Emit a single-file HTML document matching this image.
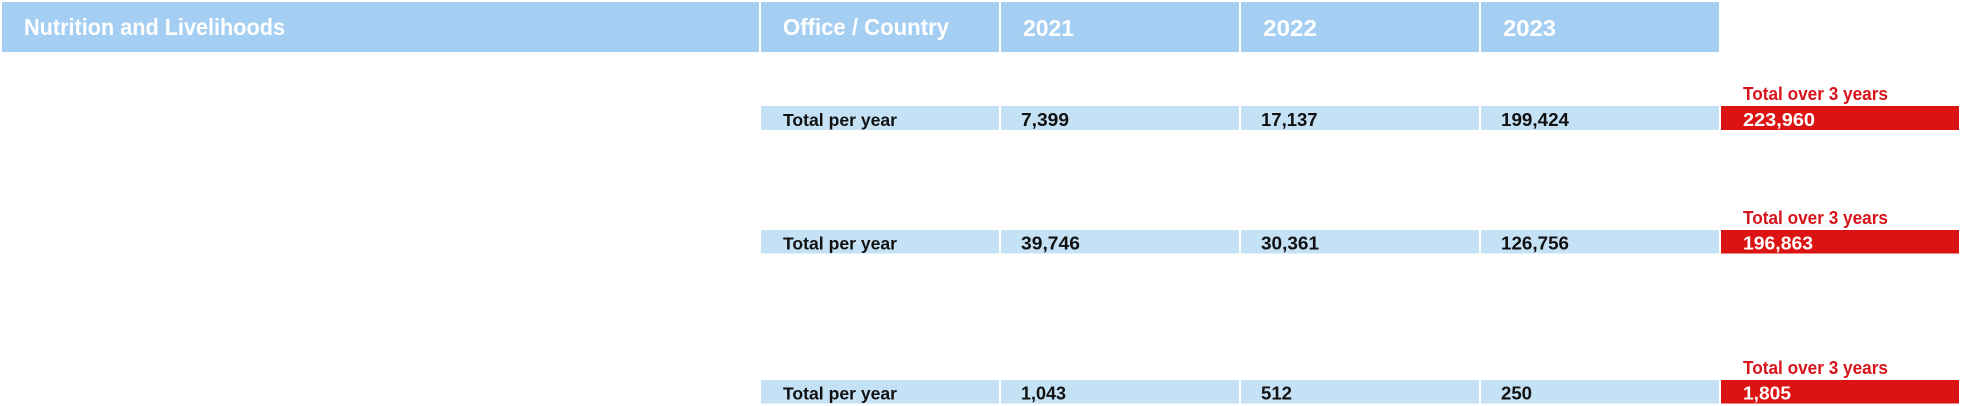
<!DOCTYPE html>
<html>
<head>
<meta charset="utf-8">
<style>
  html, body { margin: 0; padding: 0; background: #ffffff; }
  body { width: 1962px; height: 406px; overflow: hidden; }
  svg { display: block; }
  text { font-family: "Liberation Sans", Arial, sans-serif; font-weight: bold; }
  .hd { fill: #ffffff; font-size: 23px; }
  .lb { fill: #111111; font-size: 17.5px; }
  .nm { fill: #111111; font-size: 18.5px; }
  .rl { fill: #d7141b; font-size: 18px; }
  .rv { fill: #ffffff; font-size: 18.5px; }
</style>
</head>
<body>
<svg width="1962" height="406" viewBox="0 0 1962 406" xmlns="http://www.w3.org/2000/svg">
  <rect x="0" y="0" width="1962" height="406" fill="#ffffff"/>

  <!-- Header -->
  <rect x="2" y="2" width="757" height="50" fill="#a5cff2"/>
  <rect x="761" y="2" width="238" height="50" fill="#a5cff2"/>
  <rect x="1001" y="2" width="238" height="50" fill="#a5cff2"/>
  <rect x="1241" y="2" width="238" height="50" fill="#a5cff2"/>
  <rect x="1481" y="2" width="238" height="50" fill="#a5cff2"/>

  <text class="hd" x="24" y="35" textLength="261" lengthAdjust="spacingAndGlyphs">Nutrition and Livelihoods</text>
  <text class="hd" x="783" y="35" textLength="166" lengthAdjust="spacingAndGlyphs">Office / Country</text>
  <text class="hd" x="1023" y="36" textLength="51" lengthAdjust="spacingAndGlyphs">2021</text>
  <text class="hd" x="1263" y="36" textLength="54" lengthAdjust="spacingAndGlyphs">2022</text>
  <text class="hd" x="1503" y="36" textLength="53" lengthAdjust="spacingAndGlyphs">2023</text>

  <!-- Row 1 -->
  <text class="rl" x="1743" y="100" textLength="145" lengthAdjust="spacingAndGlyphs">Total over 3 years</text>
  <rect x="761" y="106" width="238" height="24" fill="#c5e1f6"/>
  <rect x="1001" y="106" width="238" height="24" fill="#c5e1f6"/>
  <rect x="1241" y="106" width="238" height="24" fill="#c5e1f6"/>
  <rect x="1481" y="106" width="238" height="24" fill="#c5e1f6"/>
  <rect x="1721" y="106" width="238" height="24" fill="#db1313"/>
  <text class="lb" x="783" y="126" textLength="114" lengthAdjust="spacingAndGlyphs">Total per year</text>
  <text class="nm" x="1021" y="126" textLength="48" lengthAdjust="spacingAndGlyphs">7,399</text>
  <text class="nm" x="1261" y="126">17,137</text>
  <text class="nm" x="1501" y="126" textLength="68" lengthAdjust="spacingAndGlyphs">199,424</text>
  <text class="rv" x="1743" y="126" textLength="72" lengthAdjust="spacingAndGlyphs">223,960</text>

  <!-- Row 2 -->
  <text class="rl" x="1743" y="224" textLength="145" lengthAdjust="spacingAndGlyphs">Total over 3 years</text>
  <rect x="761" y="230" width="238" height="23.5" fill="#c5e1f6"/>
  <rect x="1001" y="230" width="238" height="23.5" fill="#c5e1f6"/>
  <rect x="1241" y="230" width="238" height="23.5" fill="#c5e1f6"/>
  <rect x="1481" y="230" width="238" height="23.5" fill="#c5e1f6"/>
  <rect x="1721" y="230" width="238" height="23.5" fill="#db1313"/>
  <text class="lb" x="783" y="249.5" textLength="114" lengthAdjust="spacingAndGlyphs">Total per year</text>
  <text class="nm" x="1021" y="249.5" textLength="59" lengthAdjust="spacingAndGlyphs">39,746</text>
  <text class="nm" x="1261" y="249.5" textLength="58" lengthAdjust="spacingAndGlyphs">30,361</text>
  <text class="nm" x="1501" y="249.5" textLength="68" lengthAdjust="spacingAndGlyphs">126,756</text>
  <text class="rv" x="1743" y="249.5" textLength="70" lengthAdjust="spacingAndGlyphs">196,863</text>

  <!-- Row 3 -->
  <text class="rl" x="1743" y="374" textLength="145" lengthAdjust="spacingAndGlyphs">Total over 3 years</text>
  <rect x="761" y="380" width="238" height="23.5" fill="#c5e1f6"/>
  <rect x="1001" y="380" width="238" height="23.5" fill="#c5e1f6"/>
  <rect x="1241" y="380" width="238" height="23.5" fill="#c5e1f6"/>
  <rect x="1481" y="380" width="238" height="23.5" fill="#c5e1f6"/>
  <rect x="1721" y="380" width="238" height="23.5" fill="#db1313"/>
  <text class="lb" x="783" y="399.5" textLength="114" lengthAdjust="spacingAndGlyphs">Total per year</text>
  <text class="nm" x="1021" y="399.5" textLength="45" lengthAdjust="spacingAndGlyphs">1,043</text>
  <text class="nm" x="1261" y="399.5" textLength="31" lengthAdjust="spacingAndGlyphs">512</text>
  <text class="nm" x="1501" y="399.5" textLength="31" lengthAdjust="spacingAndGlyphs">250</text>
  <text class="rv" x="1743" y="399.5" textLength="48" lengthAdjust="spacingAndGlyphs">1,805</text>
</svg>
</body>
</html>
